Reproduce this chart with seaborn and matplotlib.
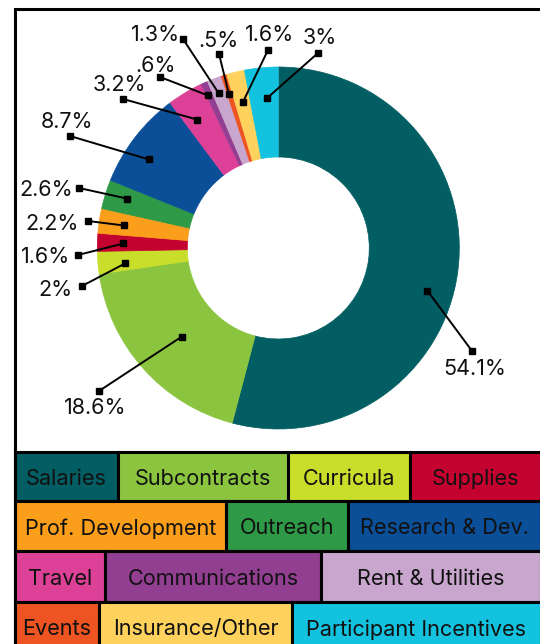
import numpy as np
import matplotlib
matplotlib.use("Agg")
import matplotlib.pyplot as plt
from matplotlib.patches import Rectangle
import seaborn as sns

# data
categories = ["Salaries", "Subcontracts", "Curricula", "Supplies", "Prof. Development",
              "Outreach", "Research & Dev.", "Travel", "Communications", "Rent & Utilities",
              "Events", "Insurance/Other", "Participant Incentives"]
shares = [54.1, 18.6, 2.0, 1.6, 2.2, 2.6, 8.7, 3.2, 0.6, 1.3, 0.5, 1.6, 3.0]
colors = ["#025E62", "#8BC540", "#C8DE2A", "#C4022F", "#FA9E1C", "#2E9A48", "#0B4F98",
          "#DD4197", "#923F92", "#C9A6CE", "#EE5322", "#FED25D", "#12C2DE"]

# legend rows (indices into categories) and box edges in pixels
legend_rows = [[0, 1, 2, 3], [4, 5, 6], [7, 8, 9], [10, 11, 12]]
legend_edges = [[15, 118, 288, 410, 541],
                [15, 225.5, 347.7, 541],
                [15, 105, 321, 541],
                [15, 99, 292, 541]]
row_y = [451.5, 501, 551, 601.5, 652]

# label layout: (fraction along wedge, anchor radius, end x, end y, text x, text y, ha)
label_layout = [
    (0.544, 155, 472, 351, 474.5, 367.5, "center"),
    (0.488, 131, 99, 391, 95, 406, "center"),
    (0.35, 154, 82, 286, 72, 288, "right"),
    (0.477, 155, 78, 255, 70, 255, "right"),
    (0.457, 156, 88, 221, 79, 222, "right"),
    (0.588, 159, 79, 188, 73, 188, "right"),
    (0.396, 157, 70, 136, 66.5, 120, "center"),
    (0.384, 152, 123, 99, 119, 83.5, "center"),
    (0.21, 168, 160, 77, 156, 64, "center"),
    (0.42, 166, 183, 39, 155.5, 33, "center"),
    (0.33, 162, 219, 54, 218, 39, "center"),
    (0.5, 150, 268, 50, 270, 33, "center"),
    (0.59, 150, 318, 53, 320, 36, "center"),
]


def pct_text(v):
    s = f"{v:g}"
    if s.startswith("0."):
        s = s[1:]
    return s + "%"


sns.set_theme(style="white")
plt.rcParams["font.family"] = ["Inter", "DejaVu Sans"]
palette = sns.color_palette(colors)

W, H = 540, 644
fig = plt.figure(figsize=(W / 100, H / 100), dpi=100)
ax = fig.add_axes([0, 0, 1, 1])

cx, cy, R = 278.3, 248, 181
wedges, _ = ax.pie(shares, colors=palette, center=(cx, cy), radius=R,
                   startangle=-90, counterclock=True,
                   wedgeprops=dict(width=R - 91, linewidth=0.5))
for w in wedges:
    w.set_edgecolor(w.get_facecolor())
ax.set_xlim(0, W)
ax.set_ylim(H, 0)
ax.set_aspect("equal")
ax.axis("off")

lab_fs = 15.5
cap = 0.727 * lab_fs * 100 / 72
for w, v, (fr, r, ex, ey, tx, ty, ha) in zip(wedges, shares, label_layout):
    th = np.deg2rad(w.theta1 + fr * (w.theta2 - w.theta1))
    ax_pt = (cx + r * np.cos(th), cy + r * np.sin(th))
    ax.plot([ax_pt[0], ex], [ax_pt[1], ey], color="black", lw=1.4,
            marker="s", markersize=4.5, solid_capstyle="butt", zorder=5)
    ax.text(tx, ty + cap / 2, pct_text(v), ha=ha, va="baseline",
            fontsize=lab_fs, color="#111111")

# outer frame
ax.plot([15, 15, 545], [H + 5, 8.5, 8.5], color="black", lw=2.2,
        solid_joinstyle="miter", zorder=6)

# legend boxes
for i, (row, edges) in enumerate(zip(legend_rows, legend_edges)):
    y0, y1 = row_y[i], row_y[i + 1]
    for j, idx in enumerate(row):
        x0, x1 = edges[j], edges[j + 1]
        ax.add_patch(Rectangle((x0, y0), x1 - x0, y1 - y0, facecolor=palette[idx],
                               edgecolor="black", linewidth=2.2, zorder=3))
        ax.text((x0 + x1) / 2, (y0 + y1) / 2 + 0.5, categories[idx], ha="center",
                va="center_baseline", fontsize=15.6, color="#111111", zorder=4)

fig.savefig("out.png", dpi=100, facecolor="white")
